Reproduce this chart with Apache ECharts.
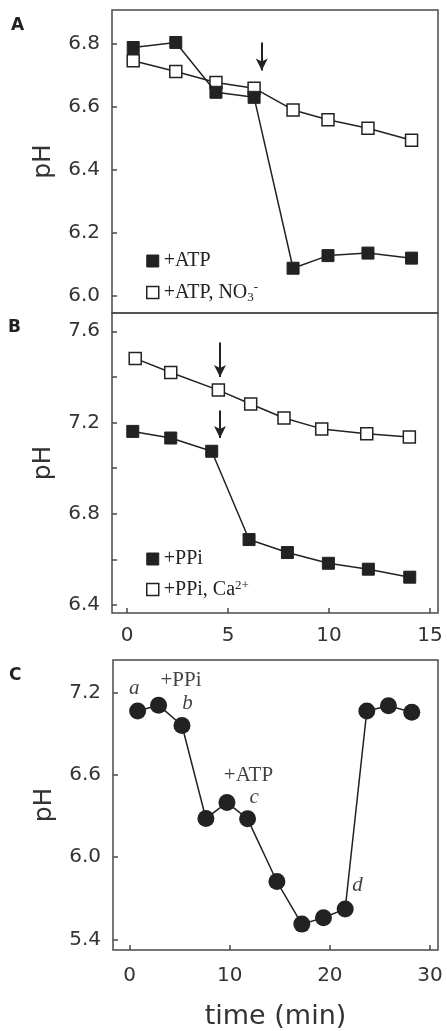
<!DOCTYPE html>
<html>
<head>
<meta charset="utf-8">
<script src="https://cdn.jsdelivr.net/npm/echarts@6/dist/echarts.min.js"></script>
<style>
html,body{margin:0;padding:0;background:#fff;}
#chart{width:447px;height:1031px;}
</style>
</head>
<body>
<div id="chart"></div>
<script>
// ---------- data ----------
const timeA = [0.3, 2.41, 4.4, 6.29, 8.22, 9.95, 11.93, 14.09];
const phA_ATP = [6.788, 6.804, 6.646, 6.630, 6.088, 6.128, 6.136, 6.120];
const phA_ATP_NO3 = [6.746, 6.712, 6.677, 6.659, 6.590, 6.559, 6.532, 6.494];

const timeB_PPi = [0.28, 2.16, 4.19, 6.04, 7.94, 9.97, 11.95, 14.0];
const phB_PPi = [7.161, 7.132, 7.074, 6.687, 6.630, 6.583, 6.557, 6.522];
const timeB_PPiCa = [0.4, 2.16, 4.52, 6.12, 7.77, 9.64, 11.87, 13.98];
const phB_PPiCa = [7.481, 7.419, 7.342, 7.281, 7.220, 7.172, 7.151, 7.137];

const timeC = [0.8, 2.89, 5.23, 7.62, 9.72, 11.78, 14.71, 17.2, 19.36, 21.53, 23.69, 25.85, 28.18];
const phC = [7.068, 7.110, 6.962, 6.282, 6.400, 6.280, 5.822, 5.511, 5.558, 5.622, 7.068, 7.106, 7.059];

const ticksAY = [6.0, 6.2, 6.4, 6.6, 6.8];
const ticksBY = [6.4, 6.8, 7.2, 7.6];
const minorBY = [6.4, 6.6, 6.8, 7.0, 7.2, 7.4, 7.6];
const ticksBX = [0, 5, 10, 15];
const ticksCY = [5.4, 6.0, 6.6, 7.2];
const ticksCX = [0, 10, 20, 30];

// annotations in panel C: [x, y, text, style]
const notesC = [
  [0.47, 7.235, 'a', 'it'],
  [5.13, 7.287, '+PPi', 'rm'],
  [5.79, 7.12, 'b', 'it'],
  [11.87, 6.598, '+ATP', 'rm'],
  [12.44, 6.436, 'c', 'it'],
  [22.76, 5.79, 'd', 'it']
];
// arrows: [x, yStart, yEnd]
const arrowsA = [[6.67, 6.804, 6.715]];
const arrowsB = [[4.6, 7.551, 7.399], [4.6, 7.253, 7.132]];

// ---------- styling ----------
const INK = '#222';
const FRAME = '#4a4a4a';
const SANS = 'DejaVu Sans';
const SERIF = 'Liberation Serif';

function zip(xs, ys) { return xs.map((x, i) => [x, ys[i]]); }

function yAxis(gridIndex, min, max, labels, ticks) {
  return {
    type: 'value', gridIndex, min, max,
    axisLine: { show: false, onZero: false },
    splitLine: { show: false },
    axisTick: { show: true, inside: true, length: 5, customValues: ticks, lineStyle: { color: FRAME, width: 1.5 } },
    axisLabel: {
      customValues: labels, margin: 12,
      fontFamily: SANS, fontSize: 20, color: '#333',
      formatter: v => v.toFixed(1)
    },
    name: 'pH', nameLocation: 'middle', nameRotate: 90, nameGap: 56,
    nameTextStyle: { fontFamily: SANS, fontSize: 25, color: '#333' }
  };
}

function arrowLine(arr) {
  return {
    silent: true,
    symbol: ['none', 'arrow'],
    symbolSize: [9, 12],
    label: { show: false },
    lineStyle: { color: INK, width: 2, type: 'solid' },
    emphasis: { disabled: true },
    data: arr.map(a => [{ coord: [a[0], a[1]] }, { coord: [a[0], a[2]] }])
  };
}

const filledSq = { color: INK, borderColor: INK, borderWidth: 1 };
const openSq = { color: '#fff', borderColor: INK, borderWidth: 1.5 };

const chart = echarts.init(document.getElementById('chart'), null, { renderer: 'canvas' });

const option = {
  backgroundColor: '#fff',
  animation: false,
  grid: [
    { left: 112, top: 10, width: 326, height: 303, show: true, borderColor: FRAME, borderWidth: 1.5, containLabel: false },
    { left: 112, top: 313, width: 326, height: 300, show: true, borderColor: FRAME, borderWidth: 1.5, containLabel: false },
    { left: 113, top: 660, width: 325, height: 298, show: true, borderColor: FRAME, borderWidth: 1.5, containLabel: false }
  ],
  xAxis: [
    { type: 'value', gridIndex: 0, min: -0.75, max: 15.4, axisLine: { show: false, onZero: false }, axisTick: { show: false }, axisLabel: { show: false }, splitLine: { show: false } },
    { type: 'value', gridIndex: 1, min: -0.75, max: 15.4, axisLine: { show: false, onZero: false }, splitLine: { show: false },
      axisTick: { show: true, inside: true, length: 5, customValues: ticksBX, lineStyle: { color: FRAME, width: 1.5 } },
      axisLabel: { customValues: ticksBX, margin: 13, fontFamily: SANS, fontSize: 20, color: '#333' } },
    { type: 'value', gridIndex: 2, min: -1.66, max: 30.8, axisLine: { show: false, onZero: false }, splitLine: { show: false },
      axisTick: { show: true, inside: true, length: 5, customValues: ticksCX, lineStyle: { color: FRAME, width: 1.5 } },
      axisLabel: { customValues: ticksCX, margin: 16, fontFamily: SANS, fontSize: 20, color: '#333' },
      name: 'time (min)', nameLocation: 'middle', nameGap: 53,
      nameTextStyle: { fontFamily: SANS, fontSize: 27, color: '#333' } }
  ],
  yAxis: [
    yAxis(0, 5.946, 6.907, ticksAY, ticksAY),
    yAxis(1, 6.365, 7.68, ticksBY, minorBY),
    yAxis(2, 5.322, 7.44, ticksCY, ticksCY)
  ],
  legend: [
    {
      left: 141, top: 246, orient: 'vertical', itemWidth: 12, itemHeight: 12, itemGap: 10,
      icon: 'rect', selectedMode: false,
      data: [
        { name: '+ATP', itemStyle: filledSq },
        { name: '+ATP, NO3-', itemStyle: openSq }
      ],
      formatter: n => n === '+ATP, NO3-' ? '+ATP, NO{sub|3}{sup|-}' : n,
      textStyle: {
        fontFamily: SERIF, fontSize: 20, color: INK, padding: [0, 0, 0, 0],
        rich: {
          sub: { fontFamily: SERIF, fontSize: 13, color: INK, verticalAlign: 'bottom', padding: [10, 0, 0, 0] },
          sup: { fontFamily: SERIF, fontSize: 13, color: INK, verticalAlign: 'top', padding: [0, 0, 8, 0] }
        }
      }
    },
    {
      left: 141, top: 544, orient: 'vertical', itemWidth: 12, itemHeight: 12, itemGap: 10,
      icon: 'rect', selectedMode: false,
      data: [
        { name: '+PPi', itemStyle: filledSq },
        { name: '+PPi, Ca2+', itemStyle: openSq }
      ],
      formatter: n => n === '+PPi, Ca2+' ? '+PPi, Ca{sup|2+}' : n,
      textStyle: {
        fontFamily: SERIF, fontSize: 20, color: INK, padding: [0, 0, 0, 0],
        rich: {
          sup: { fontFamily: SERIF, fontSize: 13, color: INK, verticalAlign: 'top', padding: [0, 0, 8, 0] }
        }
      }
    }
  ],
  graphic: [
    { type: 'text', left: 11, top: 17, style: { text: 'A', font: 'bold 17px "DejaVu Sans"', fill: INK } },
    { type: 'text', left: 8, top: 319, style: { text: 'B', font: 'bold 17px "DejaVu Sans"', fill: INK } },
    { type: 'text', left: 9, top: 667, style: { text: 'C', font: 'bold 17px "DejaVu Sans"', fill: INK } }
  ],
  series: [
    {
      name: '+ATP', type: 'line', xAxisIndex: 0, yAxisIndex: 0,
      data: zip(timeA, phA_ATP), symbol: 'rect', symbolSize: 12,
      lineStyle: { color: INK, width: 1.5 }, itemStyle: filledSq, z: 3,
      markLine: arrowLine(arrowsA)
    },
    {
      name: '+ATP, NO3-', type: 'line', xAxisIndex: 0, yAxisIndex: 0,
      data: zip(timeA, phA_ATP_NO3), symbol: 'rect', symbolSize: 12,
      lineStyle: { color: INK, width: 1.5 }, itemStyle: openSq, z: 2
    },
    {
      name: '+PPi', type: 'line', xAxisIndex: 1, yAxisIndex: 1,
      data: zip(timeB_PPi, phB_PPi), symbol: 'rect', symbolSize: 12,
      lineStyle: { color: INK, width: 1.5 }, itemStyle: filledSq,
      markLine: arrowLine(arrowsB)
    },
    {
      name: '+PPi, Ca2+', type: 'line', xAxisIndex: 1, yAxisIndex: 1,
      data: zip(timeB_PPiCa, phB_PPiCa), symbol: 'rect', symbolSize: 12,
      lineStyle: { color: INK, width: 1.5 }, itemStyle: openSq
    },
    {
      name: 'C', type: 'line', xAxisIndex: 2, yAxisIndex: 2,
      data: zip(timeC, phC), symbol: 'circle', symbolSize: 17,
      lineStyle: { color: INK, width: 1.5 }, itemStyle: { color: INK }
    },
    {
      name: 'notes', type: 'scatter', xAxisIndex: 2, yAxisIndex: 2,
      symbolSize: 0, silent: true, z: 5,
      data: notesC.map(n => ({
        value: [n[0], n[1]],
        label: {
          show: true, position: 'inside', formatter: n[2],
          fontFamily: SERIF, fontSize: 21, color: '#111',
          fontStyle: n[3] === 'it' ? 'italic' : 'normal'
        }
      }))
    }
  ]
};
chart.setOption(option);
</script>
</body>
</html>
